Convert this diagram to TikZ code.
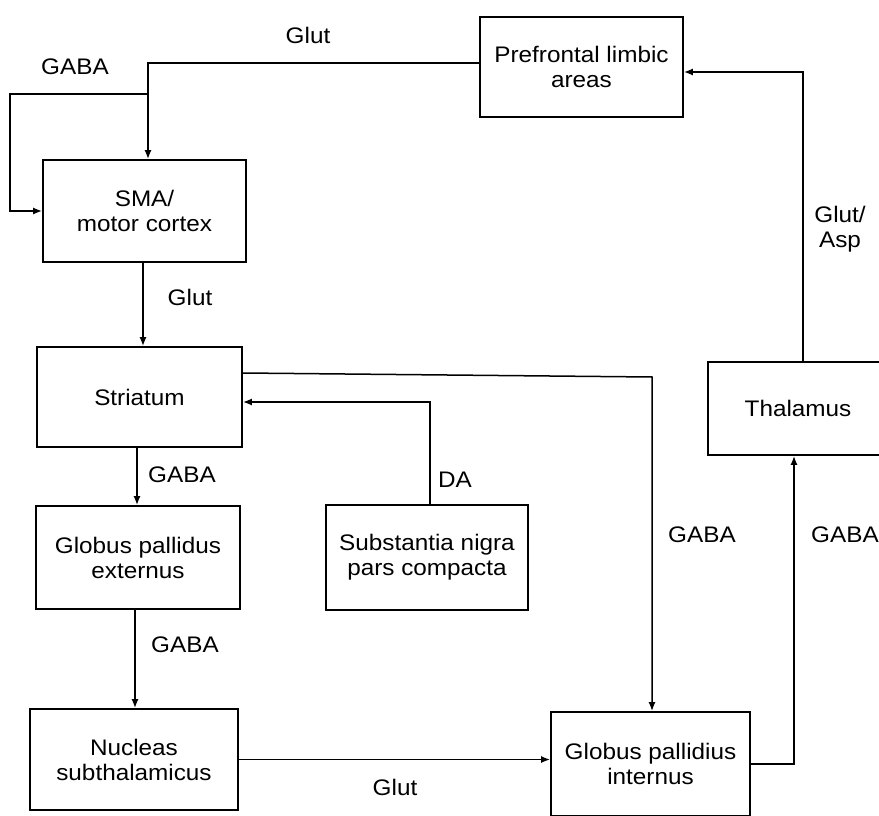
\documentclass[tikz,border=0pt]{standalone}
\usepackage{fontspec}
\setmainfont{Liberation Sans}[FakeStretch=1.08]
\usetikzlibrary{arrows.meta}
\begin{document}
\begin{tikzpicture}[x=1pt,y=-1pt,
  box/.style={draw,line width=1.8pt,inner sep=0pt,align=center,font=\fontsize{22.5}{25}\selectfont},
  arr/.style={line width=1.5pt,-{Latex[length=9pt,width=7pt]}},
  lab/.style={font=\fontsize{22.5}{25}\selectfont,align=center,inner sep=0pt}]
\useasboundingbox (0,0) rectangle (879,816);
\fill[white] (0,0) rectangle (879,816);
% boxes
\node[box,minimum width=203pt,minimum height=100pt] (pre) at (581.5,67) {Prefrontal limbic\\areas};
\node[box,minimum width=203pt,minimum height=102pt] (sma) at (144.5,211) {SMA/\\motor cortex};
\node[box,minimum width=205pt,minimum height=100pt] (str) at (139.5,397) {Striatum};
\node[box,minimum width=180pt,minimum height=93pt] (thal) at (798,408.5) {Thalamus};
\node[box,minimum width=204pt,minimum height=103pt] (gpe) at (138,557.5) {Globus pallidus\\externus};
\node[box,minimum width=202pt,minimum height=105pt] (snc) at (427,557.5) {Substantia nigra\\pars compacta};
\node[box,minimum width=208pt,minimum height=101pt] (nst) at (134,759.5) {Nucleas\\subthalamicus};
\node[box,minimum width=199pt,minimum height=104pt] (gpi) at (650.5,764) {Globus pallidius\\internus};
% junction coordinates
\coordinate (j1) at (148,63);
\coordinate (j2) at (148,94);
\coordinate (l1) at (10,94);
\coordinate (l2) at (10,211);
\coordinate (k1) at (652,377);
% connectors
\draw[arr] ([yshift=4pt]pre.west) -- (j1) -- (j1 |- sma.north);
\draw[arr] (j2) -- (l1) -- (l2) -- (l2 -| sma.west);
\draw[arr] ([xshift=-1.5pt]sma.south) -- ([xshift=-1.5pt]sma.south |- str.north);
\draw[arr] ([yshift=24pt]str.east) -- (k1) -- (k1 |- gpi.north);
\draw[arr] ([xshift=3pt]snc.north) |- ([yshift=-5pt]str.east);
\draw[arr] ([xshift=-2.5pt]str.south) -- ([xshift=-2.5pt]str.south |- gpe.north);
\draw[arr] ([xshift=-3pt]gpe.south) -- ([xshift=-3pt]gpe.south |- nst.north);
\draw[arr] (nst.east) -- (nst.east -| gpi.west);
\draw[arr] ([yshift=0pt]gpi.east) -| ([xshift=-4pt]thal.south);
\draw[arr] ([xshift=5pt]thal.north) |- ([yshift=-5pt]pre.east);
% labels
\node[lab] (t1) at (308,35) {Glut};
\node[lab] (t2) at (75,67) {GABA};
\node[lab] (t3) at (190,297) {Glut};
\node[lab] (t4) at (182,475) {GABA};
\node[lab] (t5) at (455,480) {DA};
\node[lab] (t6) at (185,645) {GABA};
\node[lab] (t7) at (702,535) {GABA};
\node[lab] (t8) at (845,535) {GABA};
\node[lab] (t9) at (840,229) {Glut/\\Asp};
\node[lab] (t10) at (395,787) {Glut};
\end{tikzpicture}
\end{document}
